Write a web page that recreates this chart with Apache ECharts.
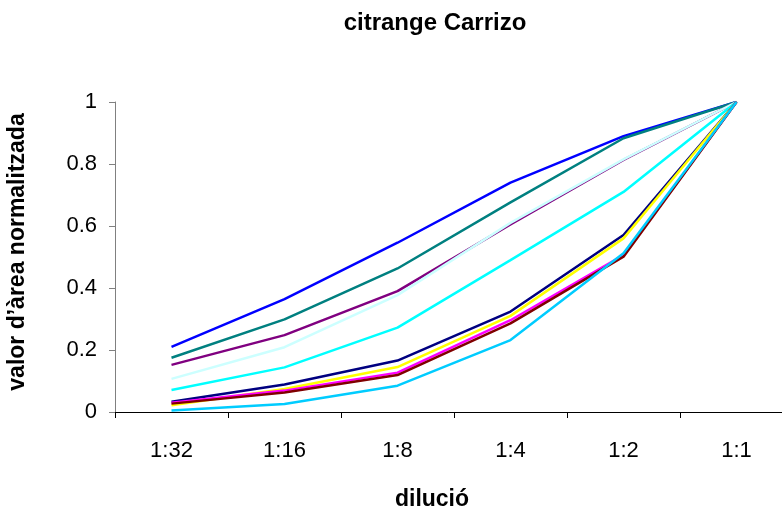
<!DOCTYPE html>
<html>
<head>
<meta charset="utf-8">
<script src="https://cdn.jsdelivr.net/npm/echarts@6/dist/echarts.min.js"></script>
<style>html,body{margin:0;padding:0;background:#fff}#c{width:782px;height:510px}</style>
</head>
<body>
<div id="c"></div>
<script>
const categories = ['1:32', '1:16', '1:8', '1:4', '1:2', '1:1'];
const yTicks = [0, 0.2, 0.4, 0.6, 0.8, 1];
const sBlue     = [0.210, 0.364, 0.546, 0.740, 0.890, 1];
const sTeal     = [0.175, 0.299, 0.463, 0.676, 0.883, 1];
const sPurple   = [0.152, 0.248, 0.390, 0.605, 0.813, 1];
const sLightCy  = [0.107, 0.209, 0.377, 0.610, 0.815, 1];
const sCyan     = [0.071, 0.144, 0.272, 0.490, 0.710, 1];
const sNavy     = [0.033, 0.089, 0.166, 0.324, 0.571, 1];
const sYellow   = [0.022, 0.074, 0.145, 0.310, 0.560, 1];
const sMagenta  = [0.030, 0.069, 0.127, 0.296, 0.506, 1];
const sDarkRed  = [0.027, 0.063, 0.119, 0.286, 0.501, 1];
const sSkyBlue  = [0.005, 0.026, 0.085, 0.232, 0.512, 1];

const seriesList = [
  ['blue', sBlue, '#0000FF'],
  ['teal', sTeal, '#008080'],
  ['purple', sPurple, '#800080'],
  ['lightcyan', sLightCy, '#CCFFFF'],
  ['cyan', sCyan, '#00FFFF'],
  ['navy', sNavy, '#000080'],
  ['yellow', sYellow, '#FFFF00'],
  ['magenta', sMagenta, '#FF00FF'],
  ['darkred', sDarkRed, '#800000'],
  ['skyblue', sSkyBlue, '#00CCFF']
];

const chart = echarts.init(document.getElementById('c'), null, {renderer: 'canvas'});
const font = 'Liberation Sans, Arial, sans-serif';
chart.setOption({
  animation: false,
  backgroundColor: '#ffffff',
  title: {
    text: 'citrange Carrizo',
    left: 430, top: 6, textAlign: 'center',
    textStyle: {fontFamily: font, fontSize: 24, fontWeight: 'bold', color: '#000'}
  },
  grid: {left: 115, width: 678, top: 102, height: 310, containLabel: false, outerBoundsMode: 'none'},
  xAxis: {
    type: 'category',
    data: categories,
    boundaryGap: true,
    name: 'dilució',
    nameLocation: 'middle',
    nameGap: 76,
    nameTextStyle: {fontFamily: font, fontSize: 23, fontWeight: 'bold', color: '#000', padding: [0, 44, 0, 0]},
    axisLine: {lineStyle: {color: '#000', width: 1}},
    axisTick: {show: true, length: 6, inside: false, lineStyle: {color: '#000'}},
    axisLabel: {fontFamily: font, fontSize: 22, color: '#000', margin: 28}
  },
  yAxis: {
    type: 'value',
    min: 0, max: 1, interval: 0.2,
    name: 'valor d’àrea normalitzada',
    nameLocation: 'middle',
    nameGap: 86,
    nameTextStyle: {fontFamily: font, fontSize: 23, fontWeight: 'bold', color: '#000', padding: [0, 0, 0, 10]},
    splitLine: {show: false},
    axisLine: {show: true, lineStyle: {color: '#808080', width: 1}},
    axisTick: {show: true, length: 6, lineStyle: {color: '#808080'}},
    axisLabel: {fontFamily: font, fontSize: 22, color: '#000', margin: 18,
      formatter: v => yTicks.includes(+v.toFixed(1)) ? String(+v.toFixed(1)) : ''}
  },
  series: seriesList.map(([name, data, color]) => ({
    name, type: 'line', data, symbol: 'none',
    lineStyle: {color, width: 2.5}, itemStyle: {color}
  }))
});
</script>
</body>
</html>
